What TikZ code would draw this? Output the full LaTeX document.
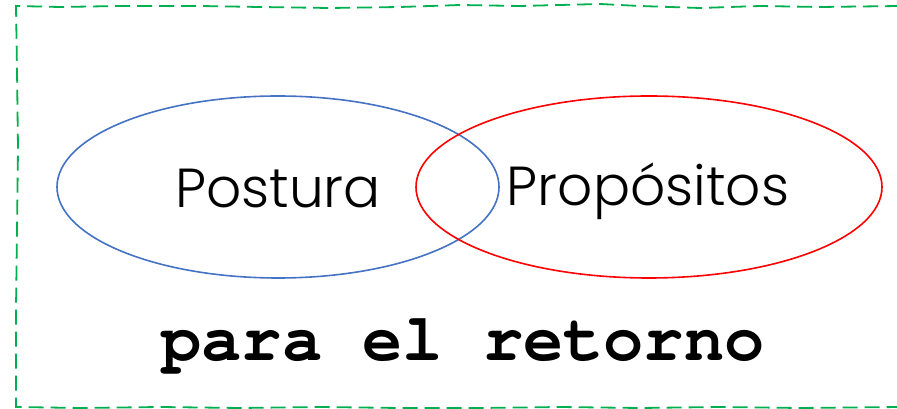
\documentclass[tikz,border=0pt]{standalone}
\usepackage{fontspec}
\setmainfont{Poppins}[UprightFont=* Light]
\setmonofont{TeX Gyre Cursor}
\usetikzlibrary{positioning,calc}

\definecolor{frameGreen}{HTML}{00B050}
\definecolor{setBlue}{HTML}{4472C4}
\definecolor{setRed}{HTML}{FF0000}

\begin{document}
\begin{tikzpicture}[x=1pt,y=1pt,
    frame/.style={draw=frameGreen, line width=1.8pt, dash pattern=on 15pt off 7pt},
    setring/.style={line width=1.6pt},
    setlabel/.style={font=\fontsize{55}{60}\selectfont}]
  \useasboundingbox (0,0) rectangle (897,409);
  % wavy dashed frame
  \draw[frame] (900,403) -- (820,402) -- (760,403) -- (700,401) -- (640,403)
    -- (600,405) -- (520,403) -- (460,404) -- (400,402) -- (330,401)
    -- (260,402) -- (200,403) -- (120,403) -- (60,402) -- (16,403)
    -- (17,340) -- (18,260) -- (17,180) -- (16,100) -- (16,2)
    -- (80,1) -- (160,2) -- (240,1) -- (320,2) -- (400,1) -- (480,1)
    -- (560,2) -- (640,1) -- (720,2) -- (800,1) -- (900,2);
  % the two sets
  \draw[setring, setBlue] (278,222) ellipse [x radius=221, y radius=91];
  \draw[setring, setRed] (649,222) ellipse [x radius=233, y radius=91];
  \node[setlabel] (postura) at (278,220) {Postura};
  \node[setlabel] (propositos) at (648,218) {Propósitos};
  \node[font=\ttfamily\bfseries\fontsize{67}{70}\selectfont, below=125pt of $(postura)!0.5!(propositos)$] (retorno) {para el retorno};
\end{tikzpicture}
\end{document}
